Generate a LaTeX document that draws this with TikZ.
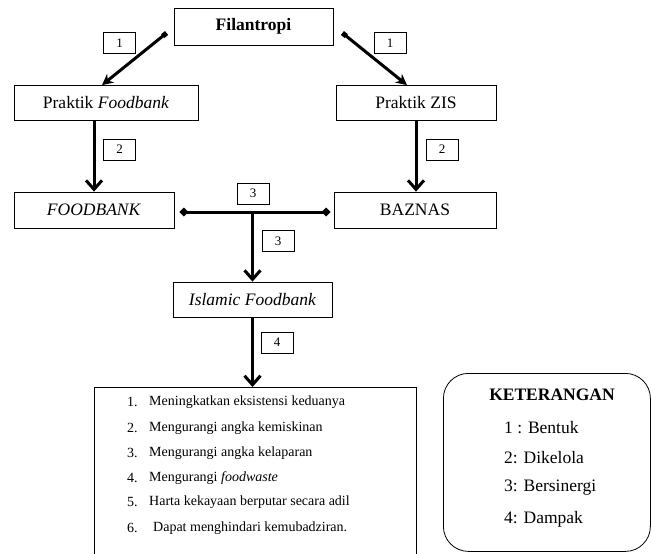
\documentclass[tikz,border=0pt]{standalone}
\usepackage{fontspec}
\setmainfont{Liberation Serif}
\usetikzlibrary{arrows.meta, positioning}

\begin{document}
\begin{tikzpicture}[x=1pt, y=-1pt,
  box/.style={draw, line width=0.8pt, inner sep=0pt, minimum height=35pt, font=\fontsize{17.5}{20}\selectfont},
  nomor/.style={draw, line width=0.8pt, minimum width=32pt, minimum height=21pt, inner sep=0pt, font=\fontsize{13}{15}\selectfont},
  poin/.style={anchor=west, inner sep=0pt, font=\fontsize{14}{16}\selectfont},
  ket/.style={anchor=west, inner sep=0pt, font=\fontsize{17.5}{20}\selectfont},
  tebal/.style={line width=3pt},
  barb/.style={tebal, -{Straight Barb[length=9pt,width=16pt]}}]

				\fill[white] (0,0) rectangle (651,554);
				\useasboundingbox (0,0) rectangle (651,554);
				\clip (0,0) rectangle (651,554);

				% kotak utama
				\node[box, minimum width=159pt, minimum height=37pt, font=\fontsize{17.5}{20}\selectfont\bfseries] (fil) at (253.5,26.5) {Filantropi};
				\node[box, minimum width=184pt] (pfb) at (106,103) {Praktik \textit{Foodbank}};
				\node[box, minimum width=160pt] (pzis) at (416,103) {Praktik ZIS};
				\node[box, minimum width=160pt, minimum height=36pt] (fb) at (94,210) {\textit{FOODBANK}};
				\node[box, minimum width=162pt, minimum height=36pt] (baz) at (415,210) {BAZNAS};
				\node[box, minimum width=159pt] (isl) at (252.5,299.5) {\textit{Islamic Foodbank}};
				\node[draw, line width=0.8pt, inner sep=0pt, minimum width=322pt, minimum height=180pt, anchor=north west] (hasil) at (93.5,387) {};
				\node[draw, line width=0.8pt, rounded corners=25pt, inner sep=0pt, minimum width=207pt, minimum height=178pt, anchor=north west] (keterangan) at (443,373) {};

				% panah
				\draw[tebal, {Square[length=5pt,width=5pt]}-{Stealth[length=11pt,width=11pt]}] ([xshift=-7pt,yshift=-6.5pt]fil.west) -- ([xshift=-4pt]pfb.north);
				\draw[tebal, {Square[length=5pt,width=5pt]}-{Stealth[length=11pt,width=11pt]}] ([xshift=9pt,yshift=-6.5pt]fil.east) -- ([xshift=-9pt]pzis.north);
				\draw[barb] (fb.north |- pfb.south) -- (fb.north);
				\draw[barb] (pzis.south) -- (pzis.south |- baz.north);
				\draw[tebal, {Diamond[length=9pt,width=9pt]}-{Diamond[length=9pt,width=9pt]}] ([xshift=5pt,yshift=-2pt]fb.east) -- ([xshift=-3pt,yshift=-2pt]baz.west);
				\coordinate (cabang) at (252.5,212);
				\draw[barb] (cabang) -- (isl.north);
				\draw[barb] (isl.south) -- (isl.south |- hasil.north);

				% nomor
				\node[nomor] (n1a) at (119.5,43) {1};
				\node[nomor] (n1b) at (390,43) {1};
				\node[nomor] (n2a) at (119.5,149.5) {2};
				\node[nomor] (n2b) at (442,149.5) {2};
				\node[nomor] (n3a) at (253,193.5) {3};
				\node[nomor] (n3b) at (278,241) {3};
				\node[nomor] (n4) at (277,342.5) {4};

				% dampak
				\node[poin] (a1) at (127,402) {1.};
				\node[poin] (b1) at (149,402) {Meningkatkan eksistensi keduanya};
				\node[poin] (a2) at (127,428) {2.};
				\node[poin] (b2) at (149,428) {Mengurangi angka kemiskinan};
				\node[poin] (a3) at (127,453) {3.};
				\node[poin] (b3) at (149,453) {Mengurangi angka kelaparan};
				\node[poin] (a4) at (127,478) {4.};
				\node[poin] (b4) at (149,478) {Mengurangi \textit{foodwaste}};
				\node[poin] (a5) at (127,502) {5.};
				\node[poin] (b5) at (149,502) {Harta kekayaan berputar secara adil};
				\node[poin] (a6) at (127,528) {6.};
				\node[poin] (b6) at (153,528) {Dapat menghindari kemubadziran.};

				% keterangan
				\node[font=\fontsize{17.5}{20}\selectfont\bfseries] (judul) at (552,395) {KETERANGAN};
				\node[ket] (k1) at (504,428) {1 : Bentuk};
				\node[ket] (k2) at (504,458) {2: Dikelola};
				\node[ket] (k3) at (504,488) {3: Bersinergi};
				\node[ket] (k4) at (504,519) {4: Dampak};
\end{tikzpicture}
\end{document}
